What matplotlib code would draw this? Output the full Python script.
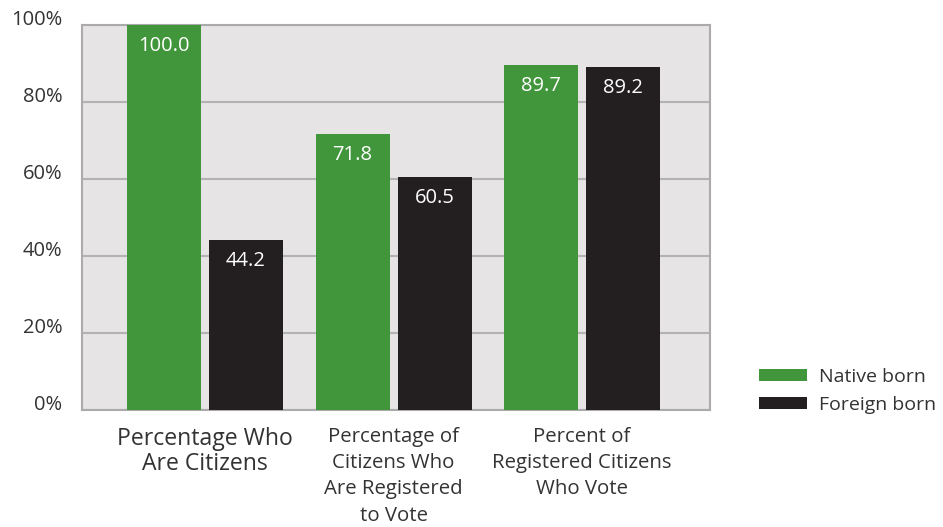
import numpy as np
import matplotlib.pyplot as plt
import matplotlib.transforms as mtransforms

plt.rcParams["font.family"] = ["Open Sans", "DejaVu Sans"]

categories = [
    "Percentage Who\nAre Citizens",
    "Percentage of\nCitizens Who\nAre Registered\nto Vote",
    "Percent of\nRegistered Citizens\nWho Vote",
]
native_born = [100.0, 71.8, 89.7]
foreign_born = [44.2, 60.5, 89.2]
y_ticks = [0, 20, 40, 60, 80, 100]
series_names = ["Native born", "Foreign born"]

green = "#41963b"
black = "#231f20"
text_color = "#333333"

fig = plt.figure(figsize=(9.43, 5.27), dpi=100)
ax = fig.add_axes([0.087, 0.222, 0.666, 0.7306])
ax.set_facecolor("#e6e4e5")

x = np.arange(len(categories))
width = 0.3926
offset = 0.2175
bars_n = ax.bar(x - offset, native_born, width, color=green, zorder=3, label=series_names[0])
bars_f = ax.bar(x + offset, foreign_born, width, color=black, zorder=3, label=series_names[1])

for bars, vals in [(bars_n, native_born), (bars_f, foreign_born)]:
    for b, v in zip(bars, vals):
        ax.annotate("{:.1f}".format(v), (b.get_x() + b.get_width() / 2, v),
                    xytext=(0, -21), textcoords="offset pixels",
                    ha="center", va="center", color="white", fontsize=14.5, zorder=4)

ax.set_xlim(-0.6525, 2.679)
ax.set_ylim(0, 100)
ax.set_yticks(y_ticks)
ax.set_yticklabels(["{}%".format(t) for t in y_ticks], fontsize=14.5, color=text_color,
                   va="baseline")
ax.set_xticks(x)
ax.set_xticklabels(categories, color=text_color)

# per-label size, spacing and small horizontal nudge (pixels)
label_sizes = [16.6, 14.7, 14.7]
label_spacing = [1.05, 1.42, 1.42]
label_shift = [-6.5, -4.5, -0.5]
for lab, fs, ls, dx in zip(ax.get_xticklabels(), label_sizes, label_spacing, label_shift):
    lab.set_fontsize(fs)
    lab.set_linespacing(ls)
    lab.set_transform(lab.get_transform() + mtransforms.Affine2D().translate(dx, 0))
ax.tick_params(axis="y", length=0, pad=14)
ax.tick_params(axis="x", length=0, pad=12)

ax.yaxis.grid(True, color="#b3b3b3", linewidth=1.5, zorder=1)
ax.set_axisbelow(True)
for s in ax.spines.values():
    s.set_color("#ababab")
    s.set_linewidth(1.5)

ax.legend(loc="center left", bbox_to_anchor=(0.805, 0.258), bbox_transform=fig.transFigure,
          frameon=False, fontsize=14, handlelength=2.47, handleheight=0.57,
          handletextpad=0.62, labelspacing=0.5, borderpad=0, borderaxespad=0,
          labelcolor=text_color)

fig.savefig("out.png", dpi=100)
